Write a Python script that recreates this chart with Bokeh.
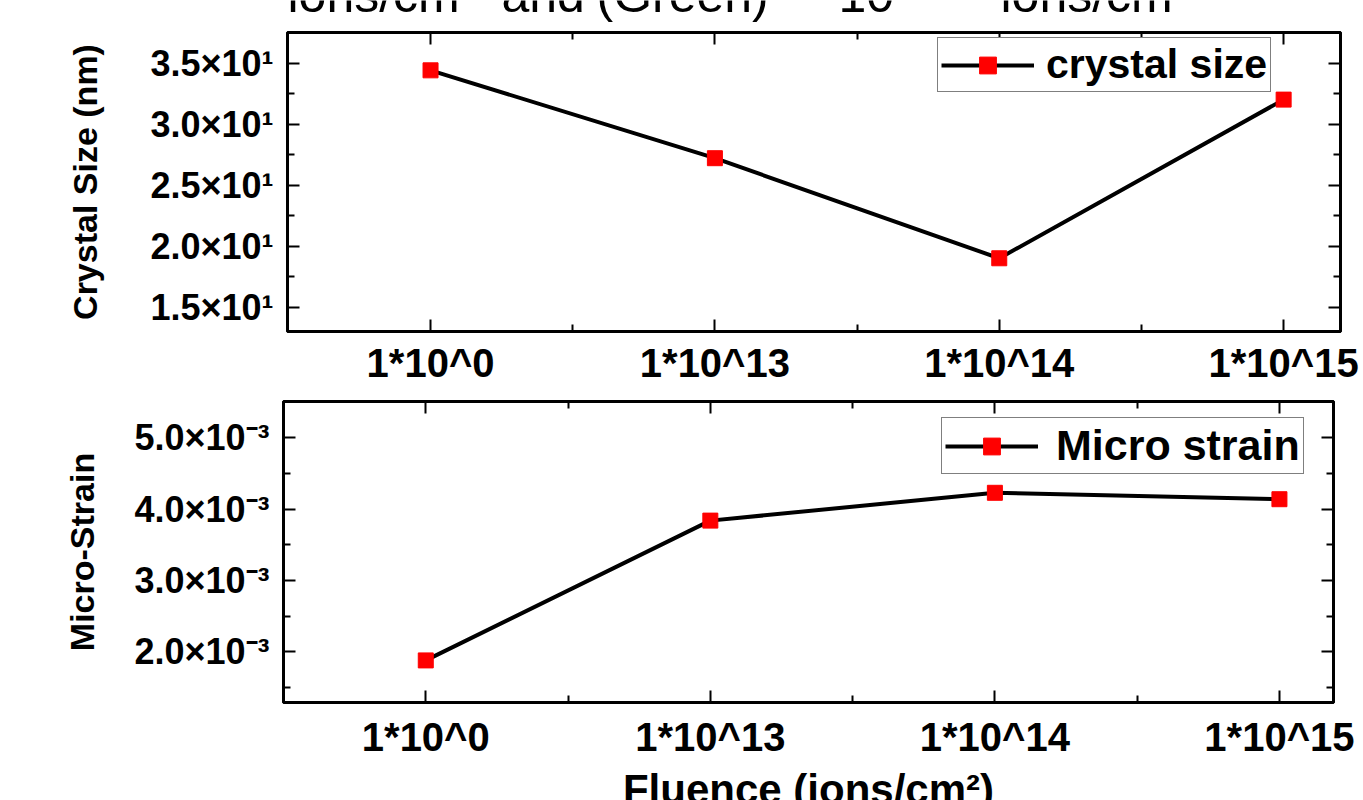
from bokeh.plotting import figure
from bokeh.models import (LinearAxis, FixedTicker, CustomJSTickFormatter, Range1d,
                          Legend, LegendItem, Label)
from bokeh.layouts import column, row
from bokeh.embed import file_html
from bokeh.resources import INLINE

# ---- data ----
fluence = ["1*10^0", "1*10^13", "1*10^14", "1*10^15"]
crystal_size = [34.4, 27.2, 19.0, 32.0]
micro_strain = [1.88e-3, 3.84e-3, 4.23e-3, 4.14e-3]
size_ticks = [15, 20, 25, 30, 35]
size_minor = [17.5, 22.5, 27.5, 32.5]
strain_ticks = [2e-3, 3e-3, 4e-3, 5e-3]
strain_minor = [1.5e-3, 2.5e-3, 3.5e-3, 4.5e-3]
title_words = ["ions/cm\u00b2", "and", "(Green)", "10\u00b9\u2075", "ions/cm\u00b2"]

FONT = "Liberation Sans"
x_pos = list(range(1, len(fluence) + 1))
x_minor = [i + 0.5 for i in x_pos[:-1]]


def make_panel(y, yticks, yminor, yrange, xrange, yfmt, ylabel, series_label,
               frame_w, frame_h, borders, legend_loc, legend_font, legend_standoff,
               x_standoff, ylabel_standoff, xlabel=None):
    p = figure(frame_width=frame_w, frame_height=frame_h,
               x_range=Range1d(*xrange), y_range=Range1d(*yrange),
               output_backend="svg", toolbar_location=None,
               min_border_left=borders[0], min_border_right=borders[1],
               min_border_top=borders[2], min_border_bottom=borders[3],
               background_fill_color="white", border_fill_color="white")
    p.xgrid.visible = False
    p.ygrid.visible = False
    p.outline_line_color = "black"
    p.outline_line_width = 3

    xt = FixedTicker(ticks=x_pos, minor_ticks=x_minor)
    yt = FixedTicker(ticks=yticks, minor_ticks=yminor)
    xf = CustomJSTickFormatter(args=dict(labels=fluence),
                               code="const i = Math.round(tick) - 1; return labels[i] || '';")
    yf = CustomJSTickFormatter(code=yfmt)
    empty = CustomJSTickFormatter(code="return '';")

    def style_axis(ax, ticker, fmt, labels=True):
        ax.ticker = ticker
        ax.formatter = fmt
        ax.major_tick_in = 12
        ax.major_tick_out = 0
        ax.minor_tick_in = 7
        ax.minor_tick_out = 0
        ax.axis_line_width = 3
        ax.major_tick_line_width = 2
        ax.minor_tick_line_width = 2
        ax.axis_line_color = "black"
        ax.major_tick_line_color = "black"
        ax.minor_tick_line_color = "black"
        if labels:
            ax.major_label_text_font = FONT
            ax.major_label_text_font_style = "bold"
            ax.major_label_text_color = "black"
        else:
            ax.major_label_text_font_size = "0px"
            ax.major_label_standoff = 0

    xa = p.xaxis[0]
    style_axis(xa, xt, xf)
    xa.major_label_text_font_size = "40px"
    xa.major_label_standoff = x_standoff
    if xlabel:
        xa.axis_label = xlabel
        xa.axis_label_text_font = FONT
        xa.axis_label_text_font_style = "bold"
        xa.axis_label_text_font_size = "42px"
        xa.axis_label_standoff = 4
        xa.axis_label_text_color = "black"

    ya = p.yaxis[0]
    style_axis(ya, yt, yf)
    ya.major_label_text_font_size = "36px"
    ya.major_label_standoff = 14
    ya.axis_label = ylabel
    ya.axis_label_text_font = FONT
    ya.axis_label_text_font_style = "bold"
    ya.axis_label_text_font_size = "34px"
    ya.axis_label_standoff = ylabel_standoff
    ya.axis_label_text_color = "black"

    top = LinearAxis()
    style_axis(top, FixedTicker(ticks=x_pos, minor_ticks=x_minor), empty, labels=False)
    p.add_layout(top, "above")
    right = LinearAxis()
    style_axis(right, FixedTicker(ticks=yticks, minor_ticks=yminor), empty, labels=False)
    p.add_layout(right, "right")

    ln = p.line(x_pos, y, line_color="black", line_width=4)
    sc = p.scatter(x_pos, y, marker="square", size=15, fill_color="red", line_color="red")

    leg = Legend(items=[LegendItem(label=series_label, renderers=[ln, sc])],
                 location=legend_loc, glyph_width=93, glyph_height=42,
                 label_text_font=FONT, label_text_font_style="bold",
                 label_text_font_size=legend_font, label_text_color="black",
                 label_standoff=legend_standoff, padding=3, margin=0, spacing=0,
                 border_line_color="black", border_line_width=1,
                 background_fill_color="white", background_fill_alpha=1)
    p.add_layout(leg)
    return p


# title strip (upper part of the title is cut off by the page edge)
strip = figure(frame_width=1053, frame_height=24, min_border_left=287, min_border_right=23,
               min_border_top=0, min_border_bottom=0,
               x_range=Range1d(0, 1053), y_range=Range1d(0, 24),
               x_axis_location=None, y_axis_location=None,
               output_backend="svg", toolbar_location=None,
               background_fill_color="white", border_fill_color="white")
strip.outline_line_color = None
strip.xgrid.visible = False
strip.ygrid.visible = False
word_offsets = [0, 214, 309, 551, 713]
for word, off in zip(title_words, word_offsets):
    strip.add_layout(Label(x=off, y=1.5, text=word, text_font=FONT, text_font_size="50px",
                           text_baseline="bottom", text_color="black"))

p1 = make_panel(crystal_size, size_ticks, size_minor, (13.0, 37.5), (0.497, 4.2),
                "return (tick/10).toFixed(1) + '\u00d710\u00b9';",
                "Crystal Size (nm)", "crystal size",
                1053, 299, (287, 23, 8, 60), (650, 239), "41px", 12, 9, 43)

p2 = make_panel(micro_strain, strain_ticks, strain_minor, (1.29e-3, 5.51e-3), (0.5, 4.19),
                "return (tick*1000).toFixed(1) + '\u00d710\u207b\u00b3';",
                "Micro-Strain", "Micro strain",
                1050, 301, (283, 30, 10, 98), (658, 228), "43px", 18, 12, 30,
                xlabel="Fluence (ions/cm\u00b2)")

layout = column(strip, p1, row(p2), spacing=0)
open("out.html", "w").write(file_html(layout, INLINE))
